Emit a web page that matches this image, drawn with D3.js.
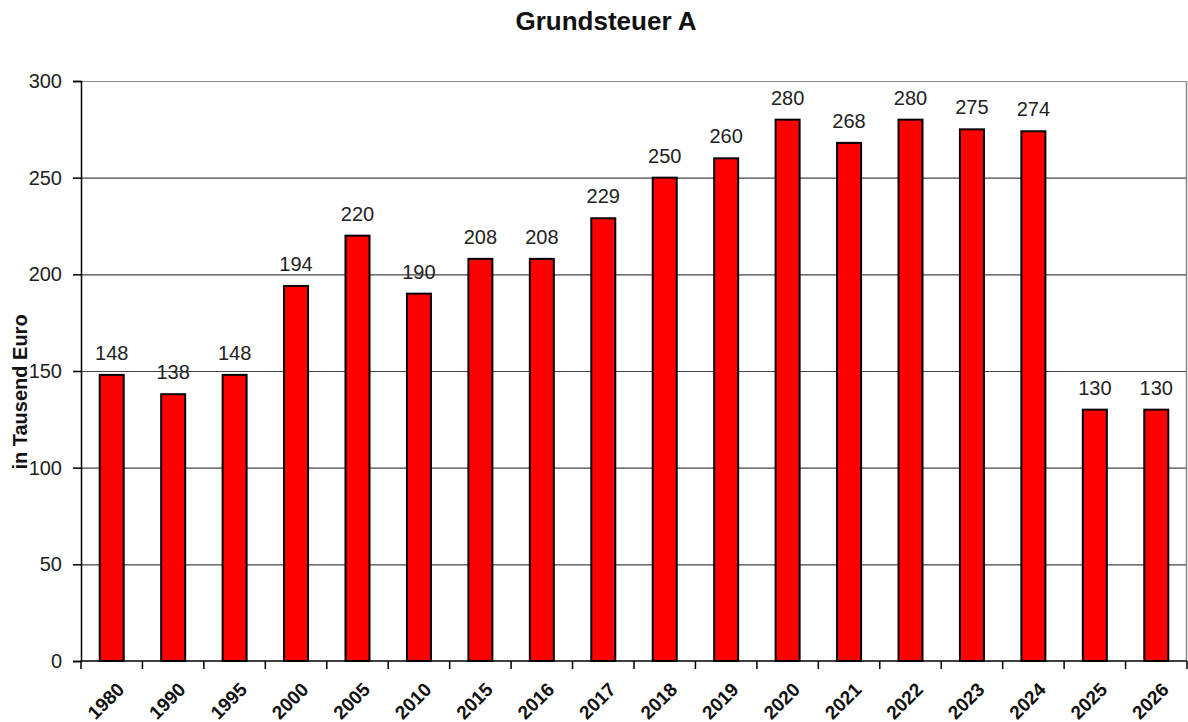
<!DOCTYPE html>
<html>
<head>
<meta charset="utf-8">
<script src="https://cdn.jsdelivr.net/npm/d3@7"></script>
<style>
  body { margin: 0; background: #fff; }
  svg { font-family: Arial, "Liberation Sans", sans-serif; }
</style>
</head>
<body>
<script>
// data
var years = ["1980", "1990", "1995", "2000", "2005", "2010", "2015", "2016", "2017",
  "2018", "2019", "2020", "2021", "2022", "2023", "2024", "2025", "2026"];
var values = [148, 138, 148, 194, 220, 190, 208, 208, 229,
  250, 260, 280, 268, 280, 275, 274, 130, 130];
var yTicks = [0, 50, 100, 150, 200, 250, 300];

var W = 1188, H = 722;
var margin = { top: 81, right: 1, bottom: 61, left: 81 },
  width = W - margin.left - margin.right,
  height = H - margin.top - margin.bottom;

var svg = d3.select("body").append("svg")
  .attr("width", W)
  .attr("height", H);

var g = svg.append("g")
  .attr("transform", "translate(" + margin.left + "," + margin.top + ")");

var xb = d3.scaleBand().domain(years).range([0, width]);
var y = d3.scaleLinear().domain([0, 300]).range([height, 0]);

// gridlines
g.selectAll(".grid").data(yTicks.filter(function(d) { return d > 0; }))
  .enter().append("line")
  .attr("x1", 0).attr("x2", width)
  .attr("y1", function(d) { return y(d) + 0.5; })
  .attr("y2", function(d) { return y(d) + 0.5; })
  .attr("stroke", function(d) { return d == 300 ? "#888" : "#444"; })
  .attr("stroke-width", 1.2);

// right border
g.append("line")
  .attr("x1", width - 0.5).attr("x2", width - 0.5)
  .attr("y1", 0).attr("y2", height)
  .attr("stroke", "#888").attr("stroke-width", 1.5);

// bars
g.selectAll(".bar").data(values).enter().append("rect")
  .attr("x", function(d, i) { return xb(years[i]) + xb.bandwidth() / 2 - 12; })
  .attr("y", function(d) { return y(d); })
  .attr("width", 24)
  .attr("height", function(d) { return height - y(d); })
  .attr("fill", "#ff0000")
  .attr("stroke", "#000")
  .attr("stroke-width", 2);

// value labels
g.selectAll(".lbl").data(values).enter().append("text")
  .attr("x", function(d, i) { return xb(years[i]) + xb.bandwidth() / 2; })
  .attr("y", function(d) { return y(d) - 15; })
  .attr("text-anchor", "middle")
  .attr("font-size", 20)
  .attr("fill", "#222")
  .text(function(d) { return d; });

// y axis
var yAxis = d3.axisLeft(y).tickValues(yTicks).tickSize(8).tickPadding(11);
var ya = g.append("g").call(yAxis);
ya.select(".domain").attr("stroke", "#000").attr("stroke-width", 1.5);
ya.selectAll(".tick line").attr("stroke", "#000").attr("stroke-width", 1.5);
ya.selectAll(".tick text").attr("font-size", 20).attr("fill", "#222")
  .attr("font-family", "Arial, 'Liberation Sans', sans-serif");

// x axis: ticks between categories
var xa = g.append("g").attr("transform", "translate(0," + height + ")");
xa.append("line").attr("x1", 0).attr("x2", width).attr("stroke", "#000").attr("stroke-width", 1.5);
xa.selectAll(".xt").data(years.concat(["end"])).enter().append("line")
  .attr("x1", function(d, i) { return i * xb.bandwidth(); })
  .attr("x2", function(d, i) { return i * xb.bandwidth(); })
  .attr("y1", 0).attr("y2", 8)
  .attr("stroke", "#000").attr("stroke-width", 1.5);
xa.selectAll(".xl").data(years).enter().append("text")
  .attr("transform", function(d) {
    return "translate(" + (xb(d) + xb.bandwidth() / 2 + 4) + ",20) rotate(-45)";
  })
  .attr("text-anchor", "end")
  .attr("dy", "0.72em")
  .attr("font-size", 19)
  .attr("font-weight", "bold")
  .attr("fill", "#111")
  .text(function(d) { return d; });

// title
svg.append("text")
  .attr("x", 606).attr("y", 30)
  .attr("text-anchor", "middle")
  .attr("font-size", 26)
  .attr("font-weight", "bold")
  .attr("fill", "#111")
  .text("Grundsteuer A");

// y axis title
svg.append("text")
  .attr("transform", "translate(27," + 392 + ") rotate(-90)")
  .attr("text-anchor", "middle")
  .attr("font-size", 20)
  .attr("font-weight", "bold")
  .attr("fill", "#111")
  .text("in Tausend Euro");
</script>
</body>
</html>
